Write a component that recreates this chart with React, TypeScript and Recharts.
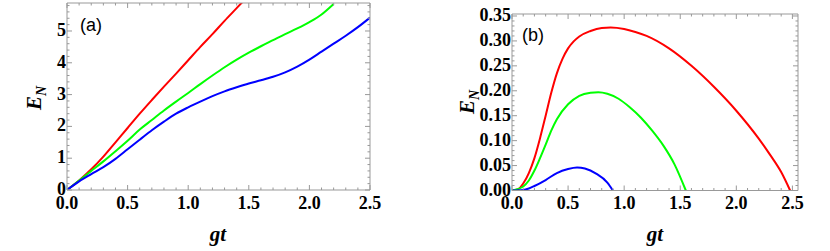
import React from 'react';
import { LineChart, Line, XAxis, YAxis } from 'recharts';

// panel (a)
const aX = [0, 0.1, 0.2, 0.3, 0.4, 0.5, 0.6, 0.7, 0.8, 0.9, 1.0, 1.1, 1.2, 1.3, 1.4, 1.5, 1.6, 1.7, 1.8, 1.9, 2.0, 2.1, 2.2, 2.3, 2.4, 2.5];
const aRed = [0, 0.3, 0.65, 1.05, 1.5, 1.95, 2.4, 2.83, 3.25, 3.66, 4.08, 4.5, 4.9, 5.32, 5.72, 6.12];
const aGreen = [0, 0.3, 0.6, 0.9, 1.22, 1.55, 1.9, 2.2, 2.5, 2.78, 3.05, 3.33, 3.6, 3.86, 4.1, 4.32, 4.52, 4.71, 4.9, 5.08, 5.28, 5.52, 5.85];
const aBlue = [0, 0.27, 0.5, 0.72, 0.98, 1.28, 1.58, 1.88, 2.15, 2.4, 2.6, 2.78, 2.95, 3.1, 3.23, 3.35, 3.45, 3.56, 3.7, 3.88, 4.1, 4.35, 4.6, 4.85, 5.12, 5.42];

// panel (b)
const bRedX = [0, 0.05, 0.1, 0.15, 0.2, 0.25, 0.3, 0.35, 0.4, 0.45, 0.5, 0.55, 0.6, 0.7, 0.8, 0.88, 1.0, 1.1, 1.2, 1.4, 1.6, 1.8, 2.0, 2.2, 2.3, 2.4, 2.48];
const bRed = [0, 0.002, 0.014, 0.035, 0.065, 0.105, 0.15, 0.196, 0.235, 0.264, 0.285, 0.299, 0.309, 0.32, 0.326, 0.327, 0.324, 0.318, 0.31, 0.285, 0.25, 0.208, 0.16, 0.104, 0.072, 0.037, 0];
const bGreenX = [0, 0.1, 0.15, 0.2, 0.25, 0.3, 0.35, 0.4, 0.5, 0.6, 0.7, 0.77, 0.85, 0.95, 1.05, 1.15, 1.25, 1.35, 1.45, 1.55];
const bGreen = [0, 0.008, 0.02, 0.04, 0.065, 0.092, 0.12, 0.143, 0.173, 0.19, 0.196, 0.197, 0.194, 0.184, 0.167, 0.146, 0.12, 0.09, 0.052, 0];
const bBlueX = [0, 0.1, 0.15, 0.2, 0.3, 0.4, 0.5, 0.58, 0.65, 0.75, 0.85, 0.9];
const bBlue = [0, 0.001, 0.004, 0.009, 0.021, 0.035, 0.043, 0.046, 0.044, 0.034, 0.016, 0];

// ticks
const aXMajor = [0, 0.5, 1.0, 1.5, 2.0, 2.5];
const aXLabels = ['0.0', '0.5', '1.0', '1.5', '2.0', '2.5'];
const aYMajor = [0, 1, 2, 3, 4, 5];
const aYLabels = ['0', '1', '2', '3', '4', '5'];
const bXMajor = [0, 0.5, 1.0, 1.5, 2.0, 2.5];
const bXLabels = ['0.0', '0.5', '1.0', '1.5', '2.0', '2.5'];
const bYMajor = [0, 0.05, 0.1, 0.15, 0.2, 0.25, 0.3, 0.35];
const bYLabels = ['0.00', '0.05', '0.10', '0.15', '0.20', '0.25', '0.30', '0.35'];

const zip = (xs: number[], ys: number[]) => ys.map((y, i) => ({ x: xs[i], y }));
const steps = (max: number, step: number) => {
  const out: number[] = [];
  for (let i = 0; i * step <= max + 1e-9; i++) out.push(Math.round(i * step * 1000) / 1000);
  return out;
};

const FRAME = '#999';
const SERIF = 'Liberation Serif, Times New Roman, serif';

const FrameTick = (props: any) => {
  const { x, y, payload, side, majors, labels } = props;
  const v = payload.value;
  const idx = majors.findIndex((m: number) => Math.abs(m - v) < 1e-6);
  const len = idx >= 0 ? 5 : 2.5;
  let line;
  if (side === 'bottom') line = <line x1={x} y1={y} x2={x} y2={y - len} stroke={FRAME} />;
  else if (side === 'top') line = <line x1={x} y1={y} x2={x} y2={y + len} stroke={FRAME} />;
  else if (side === 'left') line = <line x1={x} y1={y} x2={x + len} y2={y} stroke={FRAME} />;
  else line = <line x1={x} y1={y} x2={x - len} y2={y} stroke={FRAME} />;
  let label = null;
  if (idx >= 0 && labels) {
    if (side === 'bottom')
      label = (
        <text x={x} y={y + 18.5} textAnchor="middle" fill="#000" fontFamily={SERIF} fontWeight="bold" fontSize={18}>
          {labels[idx]}
        </text>
      );
    if (side === 'left')
      label = (
        <text x={x - 1} y={y + 5} textAnchor="end" fill="#000" fontFamily={SERIF} fontWeight="bold" fontSize={18}>
          {labels[idx]}
        </text>
      );
  }
  return <g>{line}{label}</g>;
};

interface PanelProps {
  left: number;
  width: number;
  yAxisWidth: number;
  margin: { top: number; right: number; bottom: number; left: number };
  xMax: number;
  yMax: number;
  xTicks: number[];
  yTicks: number[];
  xMajor: number[];
  yMajor: number[];
  xLabels: string[];
  yLabels: string[];
  series: { data: { x: number; y: number }[]; color: string }[];
}

const Panel: React.FC<PanelProps> = (p) => (
  <div style={{ position: 'absolute', left: p.left, top: 0 }}>
    <LineChart width={p.width} height={251} margin={p.margin}>
      <XAxis
        xAxisId="b" dataKey="x" type="number" domain={[0, p.xMax]} allowDataOverflow
        ticks={p.xTicks} interval={0} height={30} tickSize={0} tickMargin={0} tickLine={false}
        axisLine={{ stroke: FRAME }}
        tick={(t: any) => <FrameTick {...t} side="bottom" majors={p.xMajor} labels={p.xLabels} />}
      />
      <XAxis
        xAxisId="t" orientation="top" dataKey="x" type="number" domain={[0, p.xMax]} allowDataOverflow
        ticks={p.xTicks} interval={0} height={1} tickSize={0} tickMargin={0} tickLine={false}
        axisLine={{ stroke: FRAME }}
        tick={(t: any) => <FrameTick {...t} side="top" majors={p.xMajor} />}
      />
      <YAxis
        yAxisId="l" type="number" domain={[0, p.yMax]} allowDataOverflow
        ticks={p.yTicks} interval={0} width={p.yAxisWidth} tickSize={0} tickMargin={0} tickLine={false}
        axisLine={{ stroke: FRAME }}
        tick={(t: any) => <FrameTick {...t} side="left" majors={p.yMajor} labels={p.yLabels} />}
      />
      <YAxis
        yAxisId="r" orientation="right" type="number" domain={[0, p.yMax]} allowDataOverflow
        ticks={p.yTicks} interval={0} width={1} tickSize={0} tickMargin={0} tickLine={false}
        axisLine={{ stroke: FRAME }}
        tick={(t: any) => <FrameTick {...t} side="right" majors={p.yMajor} />}
      />
      {p.series.map((s, i) => (
        <Line
          key={i} xAxisId="b" yAxisId="l" data={s.data} dataKey="y" type="monotone"
          stroke={s.color} strokeWidth={2} dot={false} isAnimationActive={false}
        />
      ))}
    </LineChart>
  </div>
);

const labelItalic = { fontFamily: SERIF, fontWeight: 700, fontStyle: 'italic' as const };
const panelLabel = { fontFamily: 'Liberation Sans, Arial, sans-serif', fontSize: 18 };

const App: React.FC = () => (
  <div style={{ position: 'absolute', left: 0, top: 0, width: 830, height: 251, background: '#fff' }}>
    <Panel
      left={0} width={415} yAxisWidth={67}
      margin={{ top: 2, right: 44, bottom: 31, left: 0 }}
      xMax={2.5} yMax={5.88}
      xTicks={steps(2.5, 0.1)} yTicks={steps(5.8, 0.2)}
      xMajor={aXMajor} yMajor={aYMajor} xLabels={aXLabels} yLabels={aYLabels}
      series={[
        { data: zip(aX, aRed), color: '#ff0000' },
        { data: zip(aX, aGreen), color: '#00ff00' },
        { data: zip(aX, aBlue), color: '#0000ff' },
      ]}
    />
    <Panel
      left={430} width={400} yAxisWidth={82}
      margin={{ top: 13, right: 31, bottom: 30.5, left: 0 }}
      xMax={2.55} yMax={0.354}
      xTicks={steps(2.5, 0.1)} yTicks={steps(0.35, 0.01)}
      xMajor={bXMajor} yMajor={bYMajor} xLabels={bXLabels} yLabels={bYLabels}
      series={[
        { data: zip(bRedX, bRed), color: '#ff0000' },
        { data: zip(bGreenX, bGreen), color: '#00ff00' },
        { data: zip(bBlueX, bBlue), color: '#0000ff' },
      ]}
    />
    <svg width={830} height={251} style={{ position: 'absolute', left: 0, top: 0, pointerEvents: 'none' }}>
      <text x={80} y={31} style={panelLabel}>(a)</text>
      <text x={522} y={41} style={panelLabel}>(b)</text>
      <text x={218} y={241} textAnchor="middle" style={{ ...labelItalic, fontSize: 21 }}>gt</text>
      <text x={655} y={241} textAnchor="middle" style={{ ...labelItalic, fontSize: 21 }}>gt</text>
      <text transform="translate(41,98) rotate(-90)" textAnchor="middle" style={{ ...labelItalic, fontSize: 21 }}>
        E<tspan fontSize={14} dy={5}>N</tspan>
      </text>
      <text transform="translate(474,102) rotate(-90)" textAnchor="middle" style={{ ...labelItalic, fontSize: 21 }}>
        E<tspan fontSize={14} dy={5}>N</tspan>
      </text>
    </svg>
  </div>
);

export default App;
